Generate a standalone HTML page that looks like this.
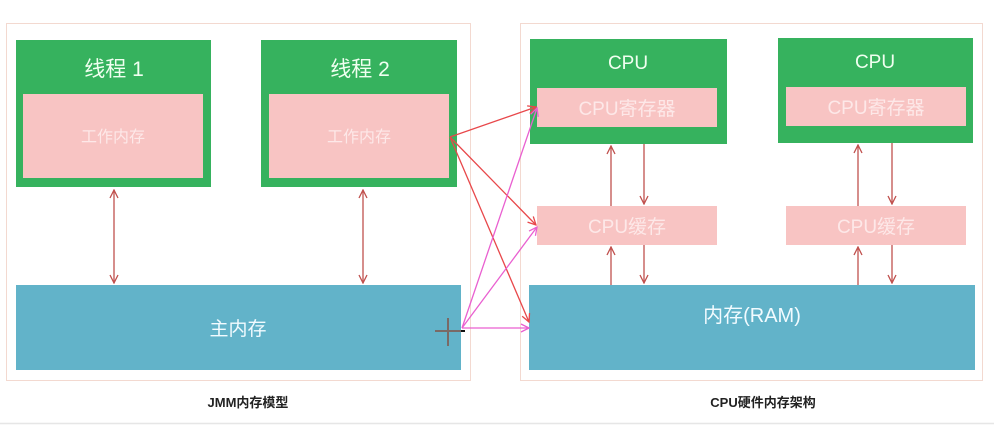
<!DOCTYPE html>
<html><head><meta charset="utf-8"><style>
html,body{margin:0;padding:0;background:#fff;}
svg text{font-family:"Liberation Sans","Noto Sans CJK SC",sans-serif;}
</style></head><body>
<svg width="994" height="436" viewBox="0 0 994 436" xmlns="http://www.w3.org/2000/svg">
<defs>
<marker id="ar" markerWidth="10" markerHeight="10" refX="9" refY="5" orient="auto" markerUnits="userSpaceOnUse">
<path d="M1,1 L9,5 L1,9" fill="none" stroke="#c0504d" stroke-width="1.3"/></marker>
<marker id="ars" markerWidth="10" markerHeight="10" refX="9" refY="5" orient="auto-start-reverse" markerUnits="userSpaceOnUse">
<path d="M1,1 L9,5 L1,9" fill="none" stroke="#c0504d" stroke-width="1.3"/></marker>
<marker id="arr" markerWidth="10" markerHeight="10" refX="9" refY="5" orient="auto" markerUnits="userSpaceOnUse">
<path d="M1,1 L9,5 L1,9" fill="none" stroke="#e8474a" stroke-width="1.3"/></marker>
<marker id="arm" markerWidth="10" markerHeight="10" refX="9" refY="5" orient="auto" markerUnits="userSpaceOnUse">
<path d="M1,1 L9,5 L1,9" fill="none" stroke="#e95fd0" stroke-width="1.3"/></marker>
</defs>
<rect x="0" y="0" width="994" height="436" fill="#fff"/>
<!-- outer boxes -->
<rect x="6.5" y="23.5" width="464" height="357" fill="none" stroke="#f3d9d0" stroke-width="1"/>
<rect x="520.5" y="23.5" width="462" height="357" fill="none" stroke="#f3d9d0" stroke-width="1"/>
<line x1="0" y1="423.5" x2="994" y2="423.5" stroke="#e6e6e6" stroke-width="1.5"/>

<!-- left -->
<rect x="16" y="40" width="195" height="147" fill="#36b25e"/>
<rect x="23" y="94" width="180" height="84" fill="#f8c4c3"/>
<text x="114" y="76" font-size="21" fill="#f0fff0" text-anchor="middle">线程 1</text>
<text x="113" y="142" font-size="16" fill="#fde8e8" text-anchor="middle">工作内存</text>

<rect x="261" y="40" width="196" height="147" fill="#36b25e"/>
<rect x="269" y="94" width="180" height="84" fill="#f8c4c3"/>
<text x="360" y="76" font-size="21" fill="#f0fff0" text-anchor="middle">线程 2</text>
<text x="359" y="142" font-size="16" fill="#fde8e8" text-anchor="middle">工作内存</text>

<rect x="16" y="285" width="445" height="85" fill="#62b3c9"/>
<text x="238" y="335" font-size="19" fill="#f2fbff" text-anchor="middle">主内存</text>

<line x1="114" y1="190" x2="114" y2="283" stroke="#c0504d" stroke-width="1.3" marker-start="url(#ars)" marker-end="url(#ar)"/>
<line x1="363" y1="190" x2="363" y2="283" stroke="#c0504d" stroke-width="1.3" marker-start="url(#ars)" marker-end="url(#ar)"/>

<!-- right -->
<rect x="530" y="39" width="197" height="105" fill="#36b25e"/>
<rect x="537" y="88" width="180" height="39" fill="#f8c4c3"/>
<text x="628" y="69" font-size="19" fill="#f0fff0" text-anchor="middle">CPU</text>
<text x="627" y="115" font-size="19" fill="#fde8e8" text-anchor="middle">CPU寄存器</text>

<rect x="778" y="38" width="195" height="105" fill="#36b25e"/>
<rect x="786" y="87" width="180" height="39" fill="#f8c4c3"/>
<text x="875" y="68" font-size="19" fill="#f0fff0" text-anchor="middle">CPU</text>
<text x="876" y="114" font-size="19" fill="#fde8e8" text-anchor="middle">CPU寄存器</text>

<rect x="537" y="206" width="180" height="39" fill="#f8c4c3"/>
<text x="627" y="233" font-size="19" fill="#fde8e8" text-anchor="middle">CPU缓存</text>
<rect x="786" y="206" width="180" height="39" fill="#f8c4c3"/>
<text x="876" y="233" font-size="19" fill="#fde8e8" text-anchor="middle">CPU缓存</text>

<rect x="529" y="285" width="446" height="85" fill="#62b3c9"/>
<text x="752" y="322" font-size="20" fill="#f2fbff" text-anchor="middle">内存(RAM)</text>

<!-- vertical arrows right -->
<line x1="611" y1="206" x2="611" y2="146" stroke="#c0504d" stroke-width="1.3" marker-end="url(#ar)"/>
<line x1="644" y1="144" x2="644" y2="204" stroke="#c0504d" stroke-width="1.3" marker-end="url(#ar)"/>
<line x1="611" y1="285" x2="611" y2="247" stroke="#c0504d" stroke-width="1.3" marker-end="url(#ar)"/>
<line x1="644" y1="245" x2="644" y2="283" stroke="#c0504d" stroke-width="1.3" marker-end="url(#ar)"/>
<line x1="858" y1="206" x2="858" y2="145" stroke="#c0504d" stroke-width="1.3" marker-end="url(#ar)"/>
<line x1="892" y1="143" x2="892" y2="204" stroke="#c0504d" stroke-width="1.3" marker-end="url(#ar)"/>
<line x1="858" y1="285" x2="858" y2="247" stroke="#c0504d" stroke-width="1.3" marker-end="url(#ar)"/>
<line x1="892" y1="245" x2="892" y2="283" stroke="#c0504d" stroke-width="1.3" marker-end="url(#ar)"/>

<!-- cross connectors -->
<g stroke="#e8474a" stroke-width="1.3" fill="none">
<line x1="450" y1="137" x2="536" y2="107" marker-end="url(#arr)"/>
<line x1="450" y1="137" x2="536" y2="225" marker-end="url(#arr)"/>
<line x1="450" y1="137" x2="529" y2="322" marker-end="url(#arr)"/>
</g>
<g stroke="#e95fd0" stroke-width="1.3" fill="none">
<line x1="462" y1="328" x2="537" y2="108" marker-end="url(#arm)"/>
<line x1="462" y1="328" x2="537" y2="227" marker-end="url(#arm)"/>
<line x1="462" y1="328" x2="529" y2="328" marker-end="url(#arm)"/>
</g>
<!-- cursor cross -->
<g stroke="#7a6a66" stroke-width="2">
<line x1="435" y1="331" x2="462" y2="331"/>
<line x1="448" y1="318" x2="448" y2="346"/>
</g>
<rect x="461" y="330" width="4" height="2" fill="#111"/>

<text x="248" y="407" font-size="13" font-weight="bold" fill="#222" text-anchor="middle">JMM内存模型</text>
<text x="763" y="407" font-size="13" font-weight="bold" fill="#222" text-anchor="middle">CPU硬件内存架构</text>
</svg>
</body></html>
